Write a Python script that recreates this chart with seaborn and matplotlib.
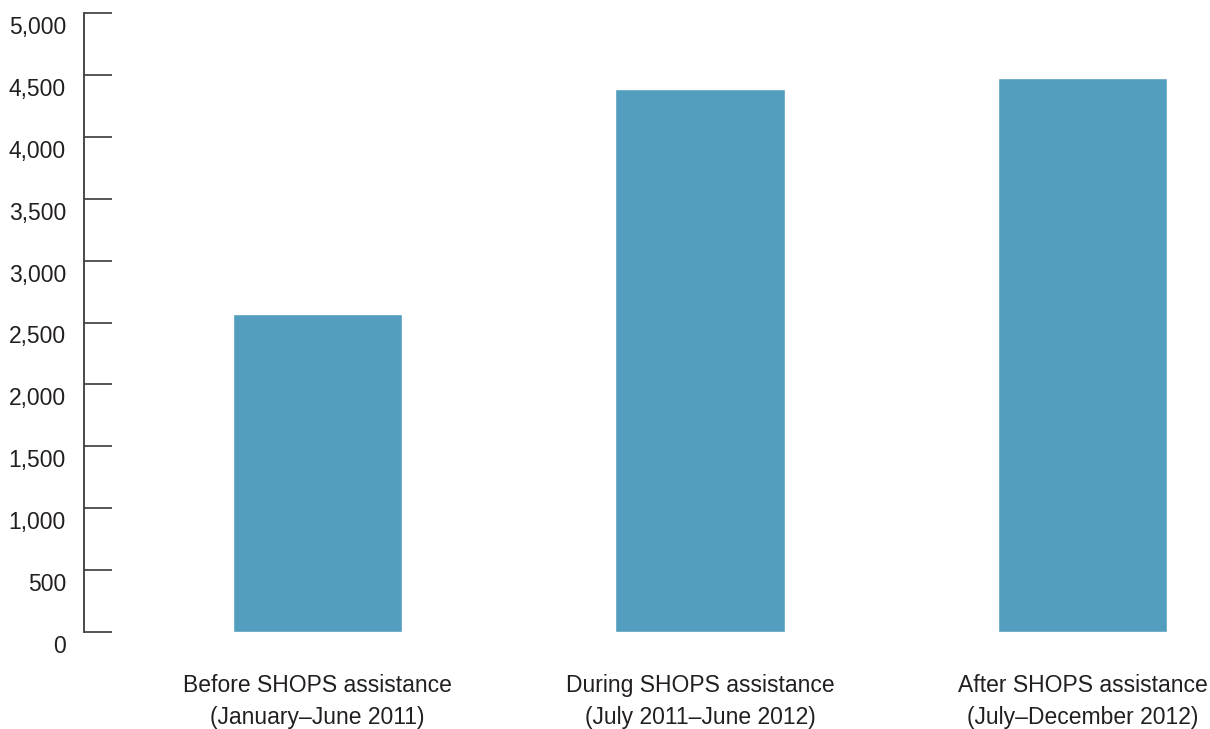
import matplotlib
matplotlib.use("Agg")
import matplotlib.pyplot as plt
import matplotlib.transforms as mtransforms
import seaborn as sns
import pandas as pd

# Average monthly sales over the three periods
categories = [
    "Before SHOPS assistance\n(January\u2013June 2011)",
    "During SHOPS assistance\n(July 2011\u2013June 2012)",
    "After SHOPS assistance\n(July\u2013December 2012)",
]
values = [2565, 4385, 4475]
yticks = [0, 500, 1000, 1500, 2000, 2500, 3000, 3500, 4000, 4500, 5000]

sns.set_theme(style="white")
plt.rcParams["font.family"] = ["Liberation Sans", "DejaVu Sans"]

text_color = "#231f20"
bar_color = "#539dbe"
axis_color = "#3a3a3a"

df = pd.DataFrame({"period": categories, "value": values})

fig = plt.figure(figsize=(12.1, 7.29), dpi=100)
ax = fig.add_axes([84 / 1210, 1 - 632 / 729, 1 - 84 / 1210, (632 - 13) / 729])

sns.barplot(data=df, x="period", y="value", color=bar_color, width=0.442,
            saturation=1, ax=ax)

ax.set_ylim(0, 5000)
ax.set_xlim(-0.61, 2.333)
ax.set_yticks(yticks)
ax.set_yticklabels([f"{v:,}" for v in yticks])
ax.set_xlabel("")
ax.set_ylabel("")

for side in ["top", "right", "bottom"]:
    ax.spines[side].set_visible(False)
ax.spines["left"].set_color(axis_color)
ax.spines["left"].set_linewidth(1.3)

ax.tick_params(axis="y", left=True, direction="in", length=20, width=1.2,
               color=axis_color, pad=13, labelsize=16.5, labelcolor=text_color)
ax.tick_params(axis="x", bottom=False, length=0, pad=30, labelsize=16.5,
               labelcolor=text_color)

# y labels sit a little below their tick marks
offset = mtransforms.ScaledTranslation(0, -12 / 100, fig.dpi_scale_trans)
for lab in ax.get_yticklabels():
    lab.set_transform(lab.get_transform() + offset)

for lab in ax.get_xticklabels():
    lab.set_linespacing(1.5)

fig.savefig("out.png", dpi=100)
